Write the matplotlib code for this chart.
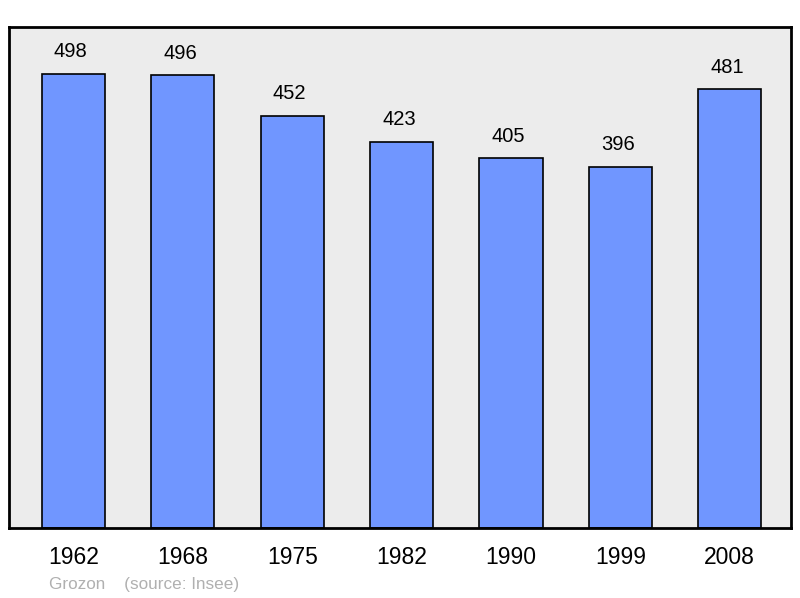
import matplotlib
matplotlib.use("Agg")
import matplotlib.pyplot as plt

years = ["1962", "1968", "1975", "1982", "1990", "1999", "2008"]
population = [498, 496, 452, 423, 405, 396, 481]
commune = "Grozon"
source = "(source: Insee)"

plt.rcParams["font.family"] = ["Liberation Sans", "DejaVu Sans"]

fig = plt.figure(figsize=(8, 5.98), dpi=100)
ax = fig.add_axes([9 / 800, 70 / 598, 782 / 800, 501 / 598])
ax.set_facecolor("#ececec")

x = list(range(len(years)))
ax.bar(x, population, width=0.577, color="#7096ff", edgecolor="black", linewidth=1.2, zorder=2)

# value labels above bars
for xi, v in zip(x, population):
    ax.annotate(str(v), (xi, v), xytext=(-2, 9), textcoords="offset points",
                ha="center", va="bottom", fontsize=14.5)

ax.set_xlim(-0.59, 6.56)
ax.set_ylim(0, 549)
ax.set_yticks([])
ax.set_xticks(x)
ax.set_xticklabels(years, fontsize=16.5)
ax.tick_params(axis="x", length=0, pad=13)
for s in ax.spines.values():
    s.set_linewidth(2)

fig.text(49 / 800, 1 - 584 / 598, commune + "    " + source, color="#b0b0b0",
         fontsize=12.3, ha="left", va="center")

fig.savefig("out.png", dpi=100)
